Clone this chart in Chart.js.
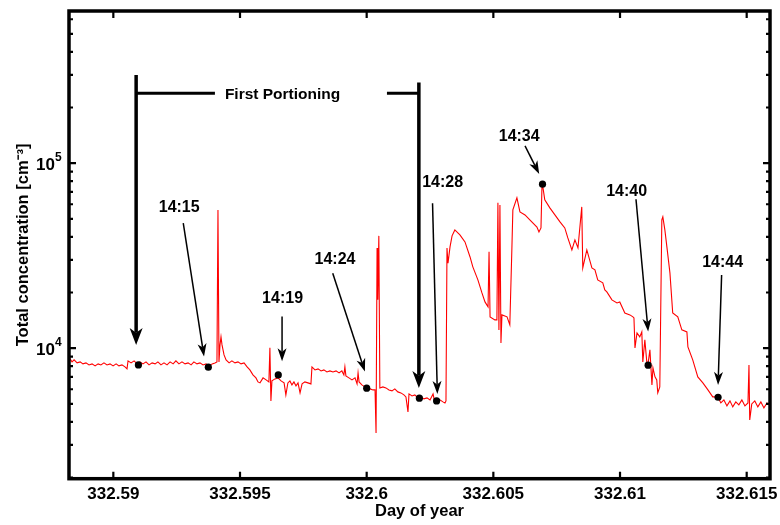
<!DOCTYPE html>
<html><head><meta charset="utf-8">
<script src="https://cdn.jsdelivr.net/npm/chart.js@4.4.1/dist/chart.umd.min.js"></script>
<style>html,body{margin:0;padding:0;background:#fff;}#wrap{width:780px;height:525px;}</style>
</head><body>
<div id="wrap"><canvas id="c" width="780" height="525"></canvas></div>
<script>
// ---- measured series ----
const dayOfYear = [
332.58821,332.58829,332.58837,332.58845,332.58857,332.58869,332.58880,332.58892,332.58904,332.58916,
332.58928,332.58940,332.58951,332.58963,332.58975,332.58987,332.58999,332.59011,332.59022,332.59034,
332.59046,332.59054,332.59058,332.59070,332.59082,332.59094,332.59105,332.59117,332.59129,332.59141,
332.59153,332.59165,332.59176,332.59188,332.59200,332.59212,332.59224,332.59236,332.59247,332.59259,
332.59271,332.59283,332.59295,332.59307,332.59318,332.59330,332.59342,332.59354,332.59366,332.59378,
332.59390,332.59401,332.59409,332.59413,332.59417,332.59421,332.59425,332.59429,332.59437,332.59445,
332.59457,332.59468,332.59480,332.59492,332.59504,332.59516,332.59528,332.59539,332.59551,332.59563,
332.59571,332.59579,332.59591,332.59603,332.59614,332.59618,332.59622,332.59626,332.59638,332.59650,
332.59662,332.59674,332.59681,332.59689,332.59697,332.59705,332.59713,332.59721,332.59729,332.59737,
332.59745,332.59756,332.59768,332.59780,332.59784,332.59796,332.59808,332.59820,332.59831,332.59843,
332.59855,332.59867,332.59879,332.59891,332.59902,332.59910,332.59914,332.59918,332.59930,332.59942,
332.59954,332.59962,332.59966,332.59970,332.59981,332.59993,332.60001,332.60013,332.60025,332.60033,
332.60037,332.60041,332.60044,332.60048,332.60052,332.60064,332.60076,332.60088,332.60100,332.60111,
332.60123,332.60135,332.60147,332.60155,332.60163,332.60167,332.60179,332.60190,332.60202,332.60214,
332.60226,332.60238,332.60250,332.60262,332.60266,332.60277,332.60289,332.60301,332.60309,332.60313,
332.60317,332.60321,332.60329,332.60337,332.60348,332.60368,332.60388,332.60408,332.60419,332.60439,
332.60455,332.60467,332.60479,332.60483,332.60487,332.60506,332.60514,332.60518,332.60522,332.60526,
332.60530,332.60534,332.60554,332.60565,332.60573,332.60577,332.60593,332.60605,332.60625,332.60644,
332.60672,332.60680,332.60688,332.60692,332.60696,332.60703,332.60723,332.60743,332.60763,332.60782,
332.60794,332.60810,332.60822,332.60834,332.60849,332.60853,332.60869,332.60889,332.60901,332.60912,
332.60932,332.60940,332.60948,332.60968,332.60988,332.60999,332.61019,332.61039,332.61051,332.61055,
332.61059,332.61067,332.61078,332.61086,332.61090,332.61098,332.61106,332.61110,332.61118,332.61126,
332.61130,332.61138,332.61145,332.61149,332.61157,332.61165,332.61169,332.61177,332.61185,332.61197,
332.61208,332.61228,332.61244,332.61264,332.61268,332.61287,332.61307,332.61327,332.61347,332.61366,
332.61386,332.61398,332.61410,332.61422,332.61434,332.61445,332.61457,332.61469,332.61481,332.61493,
332.61505,332.61509,332.61512,332.61520,332.61532,332.61544,332.61556,332.61568,332.61580,332.61592
];
const concentration = [
8537,8752,8431,8644,8327,8431,8224,8327,8122,8224,
8022,8224,8122,8327,8122,8224,8022,8224,8022,8122,
7922,7728,8537,8327,8537,8224,8431,8224,8431,8122,
8327,8224,8431,8122,8327,8122,8431,8224,8537,8224,
8431,8224,8327,8122,8431,8224,8327,8122,8224,8022,
8224,8327,8431,55920,8431,10420,11510,10420,9199,8644,
8327,8537,8327,8431,8224,8327,7922,7632,7172,6909,
6573,6492,6909,6739,6573,10040,5189,6656,6823,6909,
6656,6492,5591,6492,6656,6332,6573,6254,6492,5732,
6412,6573,6492,6412,7922,7632,7728,7538,7632,7444,
7538,7444,7538,7352,7538,7172,7922,7083,6909,6739,
6909,6412,7352,6573,6332,6177,6100,6025,5950,5950,
3484,34840,18250,40470,6100,6177,6100,5950,5877,6025,
5804,5732,5591,5454,4525,5661,5522,5591,5386,5454,
5320,5386,5254,5661,5320,5189,5254,5125,5061,5189,
34840,28810,35280,40470,43600,40970,37550,31130,27520,23400,
19900,17790,16720,33180,14770,14220,14220,61050,12560,59510,
10680,15140,14770,13370,33990,55920,64930,54540,52540,49370,
45180,42460,44690,76350,73560,63330,57330,52540,48160,44690,
39470,33990,38500,34840,58040,27160,33990,27160,26500,23400,
22560,20660,20160,18250,17570,17790,15500,15140,14760,14580,
10040,12100,11510,12250,8431,11090,8327,8122,9790,6332,
7824,6995,6739,5732,6177,49370,51250,43600,35280,25530,
15500,14760,12560,12250,10160,8644,6995,6492,5950,5454,
5454,5061,5254,4876,5189,4815,5125,4937,5254,4876,
5061,8122,4097,4999,5189,4815,5125,4756,5061,4937
];
// sampling points (black dots)
const sampleDays = [332.59099,332.59375,332.59651,332.60000,332.60208,332.60276,332.60694,332.61111,332.61387];
const sampleConc = [8120,7900,7170,6080,5370,5190,77000,8090,5430];
// time annotations
const annotationTexts = ['14:15','14:19','14:24','14:28','14:34','14:40','14:44'];
const labelDays = [332.59260,332.59668,332.59875,332.60300,332.60602,332.61026,332.61405];
const labelConc = [58260,18870,30660,79530,142230,71730,29390];
const arrowStartDays = [332.59276,332.59666,332.59866,332.60260,332.60625,332.61063,332.61401];
const arrowStartConc = [47390,14820,25430,60790,124080,63890,24900];
const arrowEndDays = [332.59358,332.59666,332.59993,332.60279,332.60681,332.61111,332.61387];
const arrowEndConc = [9006,8505,7472,5662,87540,12290,6332];
// "First Portioning" bracket
const portionText = 'First Portioning';
const portionBarDays = [332.59090,332.60206];
const portionBarTopConc = [300100,272800];
const portionBarTipConc = [10420,6100];
const portionLineConc = 238900;
const portionTextDay = 332.59668;
const portionGapDays = [332.59401,332.60080];
// axes
const xTickValues = [332.59,332.595,332.6,332.605,332.61,332.615];
const xTickLabels = ['332.59','332.595','332.6','332.605','332.61','332.615'];
const yMajorTickValues = [10000,100000];
const yMajorTickBase = ['10','10'];
const yMajorTickExponent = ['4','5'];
const yMinorTickValues = [2000,3000,4000,5000,6000,7000,8000,9000,20000,30000,40000,50000,60000,70000,80000,90000,200000,300000,400000,500000,600000];
const xMin = 332.58825, xMax = 332.61592, yMin = 1970, yMax = 665000;
const xTitle = 'Day of year';
const yTitle = 'Total concentration [cm\u207B\u00B3]';

const FONT = "'Liberation Sans', Arial, Helvetica, sans-serif";

function drawArrow(ctx,x1,y1,x2,y2,lw,hl,hw){
  const a=Math.atan2(y2-y1,x2-x1), c=Math.cos(a), s=Math.sin(a);
  const bx=x2-hl*c, by=y2-hl*s;
  const nx=x2-hl*0.72*c, ny=y2-hl*0.72*s;
  ctx.lineWidth=lw; ctx.lineCap='butt';
  ctx.beginPath(); ctx.moveTo(x1,y1); ctx.lineTo(nx,ny); ctx.stroke();
  ctx.beginPath(); ctx.moveTo(x2,y2);
  ctx.lineTo(bx-hw/2*s, by+hw/2*c); ctx.lineTo(nx,ny); ctx.lineTo(bx+hw/2*s, by-hw/2*c);
  ctx.closePath(); ctx.fill();
}

function noPad(s){ s.paddingTop=0; s.paddingBottom=0; s.paddingLeft=0; s.paddingRight=0; }

const annotationPlugin = {
  id:'annot',
  afterDatasetsDraw(chart){
    const {ctx, scales:{x,y}} = chart;
    ctx.save();
    ctx.strokeStyle='#000'; ctx.fillStyle='#000';
    ctx.font = 'bold 16px ' + FONT;
    ctx.textAlign='center'; ctx.textBaseline='alphabetic';
    annotationTexts.forEach((t,i)=>{
      drawArrow(ctx, x.getPixelForValue(arrowStartDays[i]), y.getPixelForValue(arrowStartConc[i]),
        x.getPixelForValue(arrowEndDays[i]), y.getPixelForValue(arrowEndConc[i]), 1.5, 13, 9);
      ctx.fillText(t, x.getPixelForValue(labelDays[i]), y.getPixelForValue(labelConc[i]) + 5.8);
    });
    const yl = y.getPixelForValue(portionLineConc);
    portionBarDays.forEach((d,i)=>{
      drawArrow(ctx, x.getPixelForValue(d), y.getPixelForValue(portionBarTopConc[i]),
        x.getPixelForValue(d), y.getPixelForValue(portionBarTipConc[i]), 3.5, 17, 13);
    });
    ctx.lineWidth=3;
    ctx.beginPath();
    ctx.moveTo(x.getPixelForValue(portionBarDays[0]), yl); ctx.lineTo(x.getPixelForValue(portionGapDays[0]), yl);
    ctx.moveTo(x.getPixelForValue(portionGapDays[1]), yl); ctx.lineTo(x.getPixelForValue(portionBarDays[1]), yl);
    ctx.stroke();
    ctx.font = 'bold 15.5px ' + FONT;
    ctx.fillText(portionText, x.getPixelForValue(portionTextDay), yl + 5.5);
    ctx.restore();
  },
  afterDraw(chart){
    const {ctx, chartArea:a, scales:{x,y}} = chart;
    ctx.save();
    ctx.strokeStyle='#000'; ctx.lineWidth=2.2; ctx.lineCap='butt';
    ctx.beginPath();
    x.ticks.forEach(t=>{
      const px=x.getPixelForValue(t.value);
      ctx.moveTo(px,a.bottom); ctx.lineTo(px,a.bottom-7);
      ctx.moveTo(px,a.top); ctx.lineTo(px,a.top+7);
    });
    y.ticks.forEach(t=>{
      const py=y.getPixelForValue(t.value);
      const len = yMajorTickValues.includes(t.value) ? 7 : 4;
      ctx.moveTo(a.left,py); ctx.lineTo(a.left+len,py);
      ctx.moveTo(a.right,py); ctx.lineTo(a.right-len,py);
    });
    ctx.stroke();
    ctx.lineWidth=3.5;
    ctx.strokeRect(a.left,a.top,a.right-a.left,a.bottom-a.top);
    // exponents of the y tick labels (superscript next to the "10" drawn by the axis)
    ctx.fillStyle='#000';
    ctx.font='bold 12px ' + FONT;
    ctx.textAlign='left'; ctx.textBaseline='alphabetic';
    yMajorTickValues.forEach((v,i)=>{
      ctx.fillText(yMajorTickExponent[i], a.left - 14, y.getPixelForValue(v) - 2);
    });
    ctx.restore();
  }
};

const linePoints = dayOfYear.map((d,i)=>({x:d, y:concentration[i]}));
const dotPoints = sampleDays.map((d,i)=>({x:d, y:sampleConc[i]}));

new Chart(document.getElementById('c'), {
  type:'line',
  data:{datasets:[
    {type:'scatter', data:dotPoints, pointRadius:3.6, pointBackgroundColor:'#000', pointBorderWidth:0, showLine:false, order:0},
    {type:'line', data:linePoints, borderColor:'#ff0000', borderWidth:1.1, pointRadius:0, tension:0, fill:false, order:1}
  ]},
  options:{
    responsive:false, animation:false, devicePixelRatio:1,
    layout:{padding:{left:0,right:10,top:11,bottom:0}},
    plugins:{legend:{display:false}, tooltip:{enabled:false}},
    scales:{
      x:{type:'linear', min:xMin, max:xMax,
        grid:{display:false, drawTicks:false}, border:{display:false},
        afterBuildTicks:(s)=>{ s.ticks = xTickValues.map(v=>({value:v})); },
        afterFit:(s)=>{ s.height = 46.3; noPad(s); },
        ticks:{autoSkip:false, maxRotation:0, padding:5, color:'#000',
          font:{family:FONT, size:17, weight:'bold'},
          callback:(v)=>{ const i=xTickValues.indexOf(v); return i>=0?xTickLabels[i]:''; }},
        title:{display:true, text:xTitle, color:'#000', font:{family:FONT, size:16.5, weight:'bold'}, padding:{top:0,bottom:4}}
      },
      y:{type:'logarithmic', min:yMin, max:yMax,
        grid:{display:false, drawTicks:false}, border:{display:false},
        afterBuildTicks:(s)=>{ s.ticks = yMinorTickValues.concat(yMajorTickValues).sort((a,b)=>a-b).map(v=>({value:v})); },
        afterFit:(s)=>{ s.width = 69; noPad(s); },
        ticks:{autoSkip:false, padding:14, labelOffset:2, color:'#000',
          font:{family:FONT, size:17, weight:'bold'},
          callback:(v)=>{ const i=yMajorTickValues.indexOf(v); return i>=0?yMajorTickBase[i]:''; }},
        title:{display:true, text:yTitle, color:'#000', font:{family:FONT, size:16.5, weight:'bold'}, padding:{top:14,bottom:0}}
      }
    }
  },
  plugins:[annotationPlugin]
});
</script>
</body></html>
